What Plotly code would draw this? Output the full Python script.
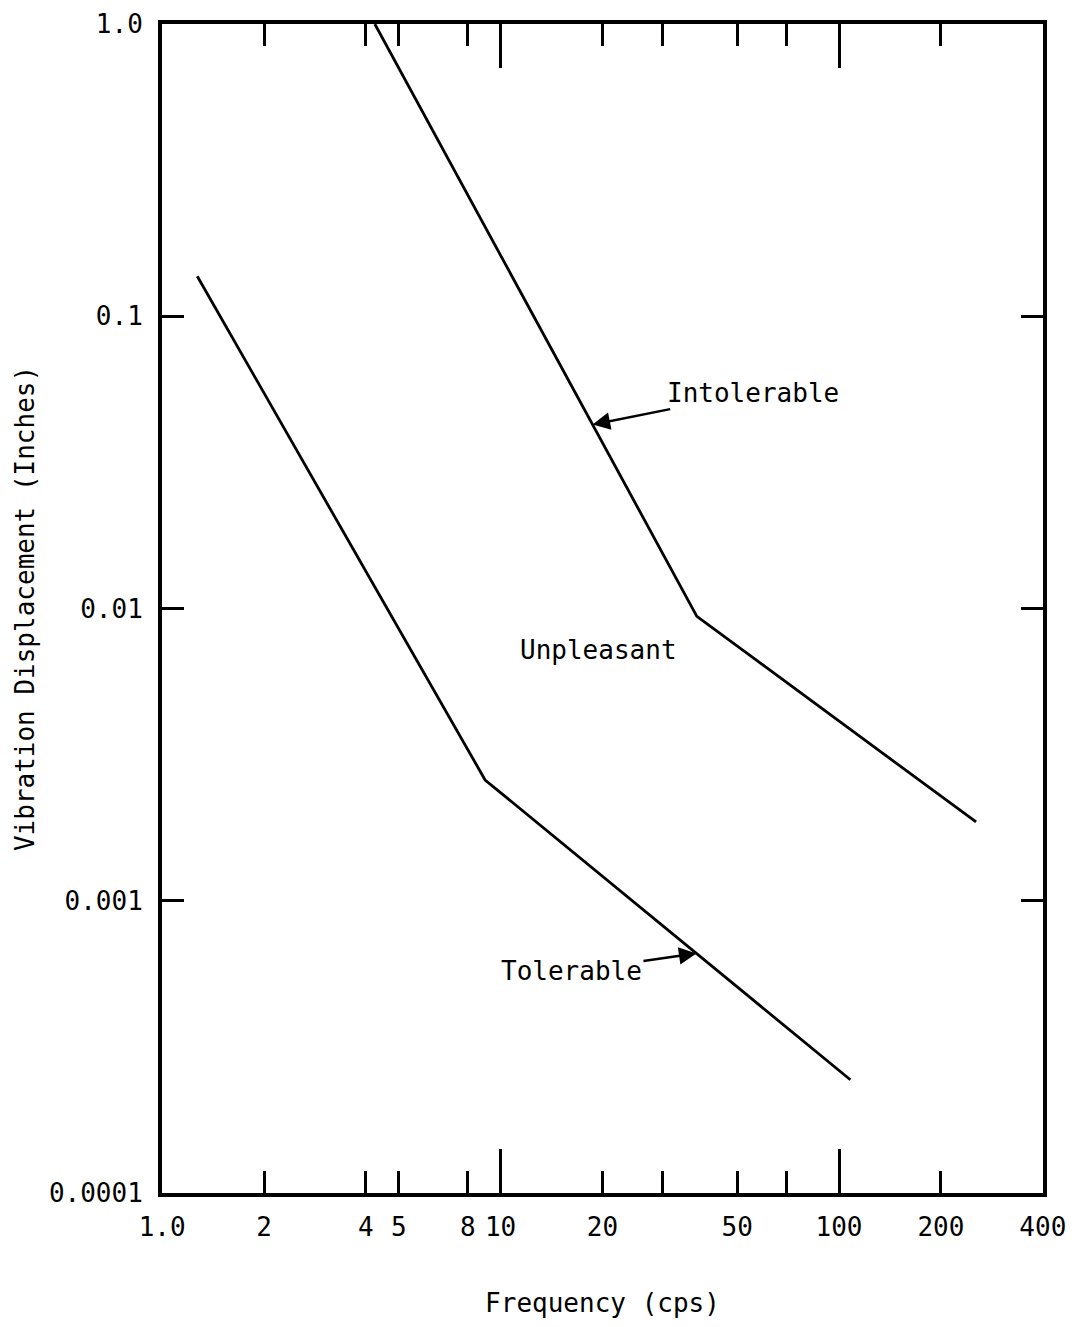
import numpy as np
import plotly.graph_objects as go

# Kennlinien (Frequenz in cps, Ausschlag in Zoll)
freq_intolerable = [4.25, 38, 254]
disp_intolerable = [1.0, 0.0094, 0.00186]
freq_tolerable = [1.27, 9.0, 108]
disp_tolerable = [0.137, 0.00259, 0.000244]

x_tickvals = [1, 2, 4, 5, 8, 10, 20, 30, 50, 70, 100, 200, 400]
x_ticktext = ["1.0", "2", "4", "5", "8", "10", "20", "", "50", "", "100", "200", "400"]
x_longticks = [10, 100]
y_tickvals = [1, 0.1, 0.01, 0.001, 0.0001]
y_ticktext = ["1.0", "0.1", "0.01", "0.001", "0.0001"]

FONT = "DejaVu Sans Mono"


def on_line(xs, ys, x):
    # Punkt auf der Kennlinie (log-log interpoliert)
    return 10 ** np.interp(np.log10(x), np.log10(xs), np.log10(ys))


fig = go.Figure()
for xs, ys in [(freq_intolerable, disp_intolerable), (freq_tolerable, disp_tolerable)]:
    fig.add_trace(go.Scatter(x=xs, y=ys, mode="lines",
                             line=dict(color="black", width=2.8),
                             showlegend=False, hoverinfo="skip"))

arrow = dict(showarrow=True, arrowhead=2, arrowsize=1.4, arrowwidth=2.5,
             arrowcolor="black", font=dict(family=FONT, size=26, color="black"))
fig.add_annotation(x=np.log10(18.7), y=np.log10(on_line(freq_intolerable, disp_intolerable, 18.7)),
                   text="Intolerable", ax=160, ay=-32, **arrow)
fig.add_annotation(x=np.log10(37.9), y=np.log10(on_line(freq_tolerable, disp_tolerable, 37.9)),
                   text="Tolerable", ax=-125, ay=18, **arrow)
fig.add_annotation(x=np.log10(19.5), y=np.log10(0.0072), text="Unpleasant", showarrow=False,
                   font=dict(family=FONT, size=26, color="black"))

fig.update_xaxes(type="log", range=[np.log10(0.999), np.log10(400.5)],
                 tickvals=x_tickvals, ticktext=x_ticktext,
                 ticks="inside", ticklen=22, tickwidth=3, tickcolor="black",
                 minor=dict(tickvals=x_longticks, ticks="inside", ticklen=44,
                            tickwidth=3, tickcolor="black"),
                 showline=True, linewidth=4, linecolor="black", mirror="ticks",
                 showgrid=False, zeroline=False, ticklabelstandoff=8,
                 ticklabeloverflow="allow", automargin=False,
                 tickfont=dict(family=FONT, size=26, color="black"),
                 title=dict(text="Frequency (cps)", standoff=54,
                            font=dict(family=FONT, size=26, color="black")))
fig.update_yaxes(type="log", range=[-4, 0],
                 tickvals=y_tickvals, ticktext=y_ticktext,
                 ticks="inside", ticklen=22, tickwidth=3, tickcolor="black",
                 showline=True, linewidth=4, linecolor="black", mirror="ticks",
                 showgrid=False, zeroline=False, ticklabelstandoff=10,
                 ticklabeloverflow="allow", automargin=False,
                 tickfont=dict(family=FONT, size=26, color="black"),
                 title=dict(text="Vibration Displacement (Inches)", standoff=8,
                            font=dict(family=FONT, size=26, color="black")))

# Seite hat 8px Rand, daher Figur etwas kleiner (keine Scrollbalken)
fig.update_layout(width=1059, height=1311,
                  margin=dict(l=154, r=24, t=16, b=126),
                  plot_bgcolor="white", paper_bgcolor="white")
fig.write_html("out.html")
